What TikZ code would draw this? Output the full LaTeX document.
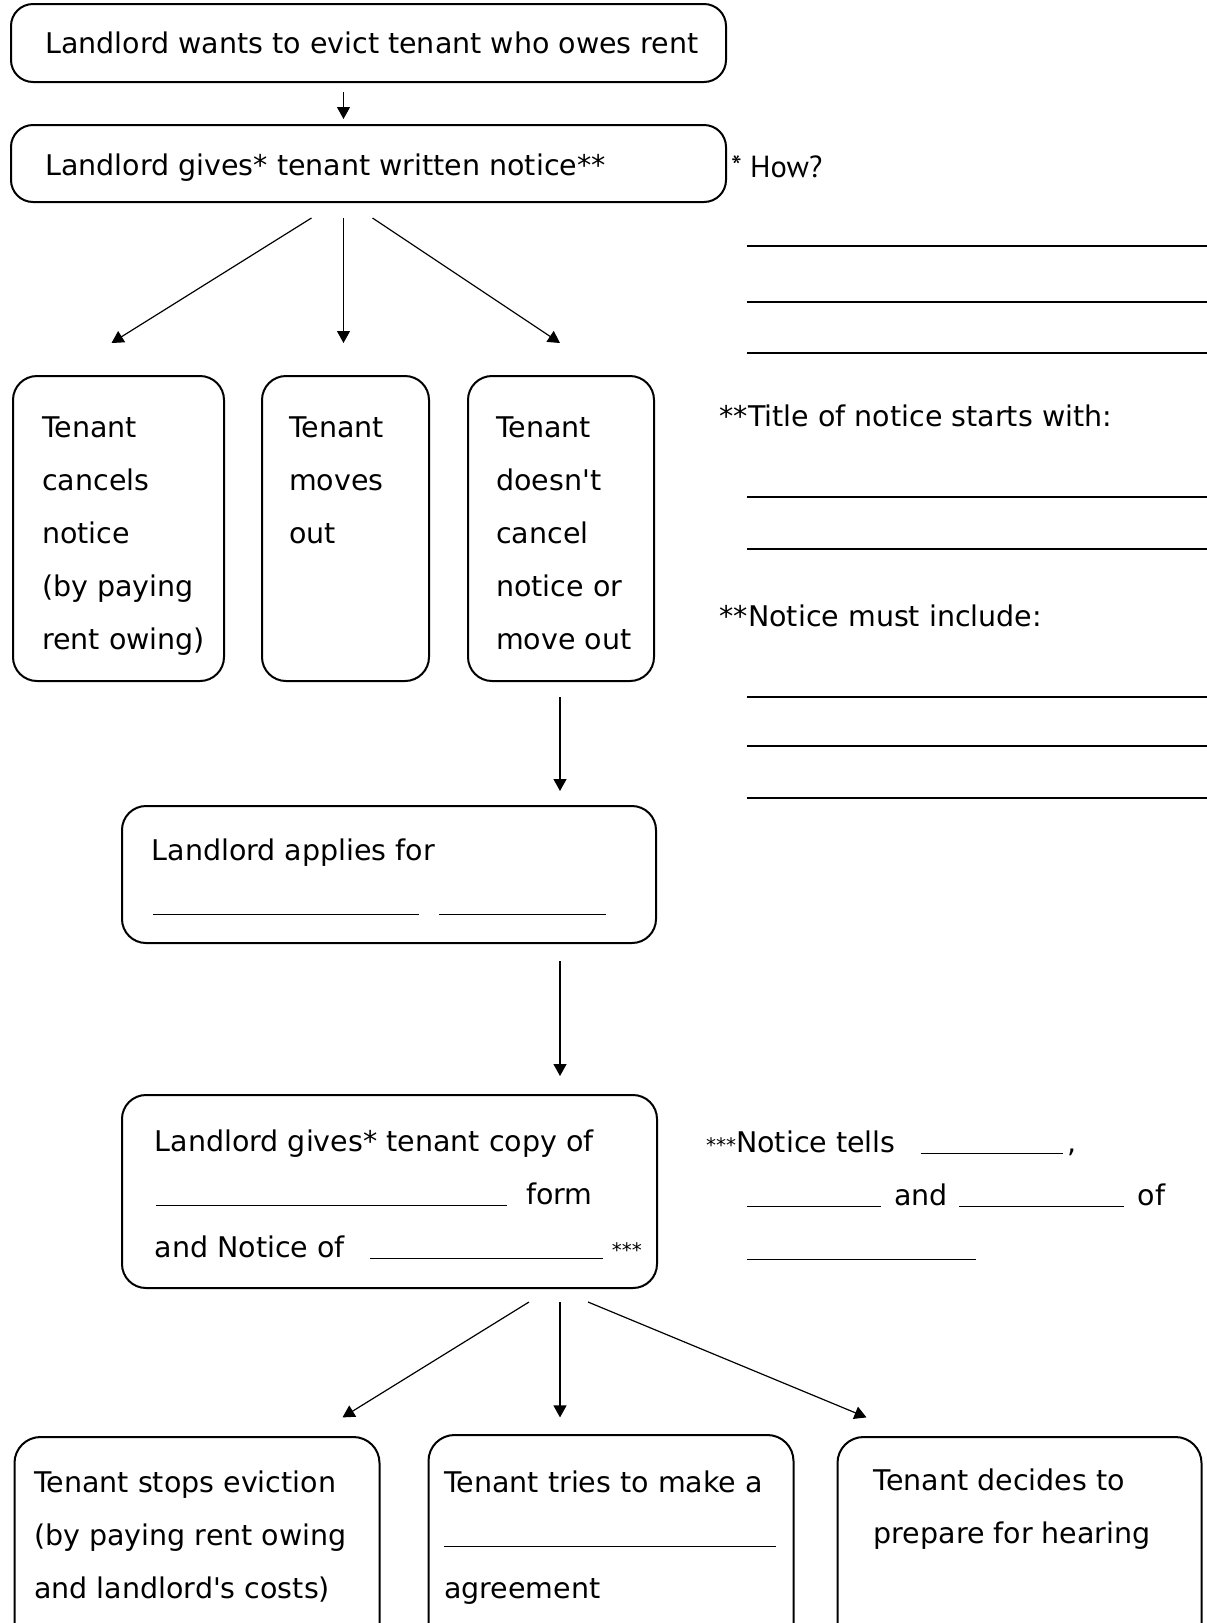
\documentclass[tikz,border=0pt]{standalone}
\usepackage{fontspec}
\setmainfont{DejaVu Sans}
\newfontfamily\howfont{PT Sans}
\usetikzlibrary{arrows.meta, positioning}

\newcommand\boxfont{\fontsize{28.5}{53}\selectfont}
\newcommand\blank[1]{\rule[-2pt]{#1}{1.3pt}}
\newcommand\smallstars[1]{{\fontsize{20}{20}\selectfont #1}}

\begin{document}
\begin{tikzpicture}[
  x=1pt, y=-1pt,
  block/.style = {draw, line width=2pt, rounded corners=24pt, inner sep=0pt, anchor=north west},
  words/.style = {inner sep=0pt, font=\boxfont, align=left, anchor=north west},
  oneline/.style = {inner sep=0pt, font=\boxfont, anchor=base west},
  arrow/.style = {line width=1.2pt, -{Triangle[width=13pt,length=12pt]}},
  fill line/.style = {line width=1.3pt}
]

  \useasboundingbox (0,0) rectangle (1207,1623);
  \clip (0,0) rectangle (1207,1623);
  \fill[white] (0,0) rectangle (1207,1623);

  % Landlord wants to evict
  \node[block, rounded corners=22pt, minimum width=715pt, minimum height=78pt] (evict) at (10,3) {};
  \node[oneline] (evict_txt) at (45,53) {Landlord wants to evict tenant who owes rent};

  % Written notice
  \node[block, rounded corners=22pt, minimum width=715pt, minimum height=77pt] (notice) at (10,124) {};
  \node[oneline] (notice_txt) at (45,175) {Landlord gives* tenant written notice**};
  \node[oneline, font=\howfont\fontsize{30.5}{34}\selectfont] (how) at (731,177) {* How?};

  \draw[arrow, shorten <=9pt, shorten >=5pt] ([xshift=-25pt]evict.south) -- ([xshift=-25pt]notice.north);

  % Three outcomes of the notice
  \node[block, minimum width=211pt, minimum height=305pt] (cancel) at (12,375) {};
  \node[block, minimum width=167pt, minimum height=305pt, right=36pt of cancel] (moves) {};
  \node[block, minimum width=186pt, minimum height=305pt, right=37pt of moves] (stay) {};

  \node[words] (cancel_txt) at (42,417) {Tenant\\cancels\\notice\\(by paying\\rent owing)};
  \node[words] (moves_txt) at (289,417) {Tenant\\moves\\out};
  \node[words] (stay_txt) at (496,417) {Tenant\\doesn\textquotesingle t\\cancel\\notice or\\move out};

  \draw[arrow] ([xshift=-57pt,yshift=-15pt]notice.south) -- ([xshift=-7pt,yshift=32pt]cancel.north);
  \draw[arrow] ([xshift=-25pt,yshift=-15pt]notice.south) -- ([xshift=-2pt,yshift=32pt]moves.north);
  \draw[arrow] ([xshift=4pt,yshift=-15pt]notice.south) -- ([xshift=-1pt,yshift=32pt]stay.north);

  % Notes on the right
  \node[oneline] (title) at (719.5,426) {**Title of notice starts with:};
  \node[oneline] (include) at (719.5,626) {**Notice must include:};

  \draw[fill line] (747,246) -- (1207,246);
  \draw[fill line] (747,302) -- (1207,302);
  \draw[fill line] (747,353) -- (1207,353);
  \draw[fill line] (747,497) -- (1207,497);
  \draw[fill line] (747,549) -- (1207,549);
  \draw[fill line] (747,697) -- (1207,697);
  \draw[fill line] (747,746) -- (1207,746);
  \draw[fill line] (747,798) -- (1207,798);

  % Landlord applies
  \node[block, minimum width=534pt, minimum height=137pt] (apply) at (121,805) {};
  \node[words] (apply_txt) at (151.5,838.3) {Landlord applies for\\\hspace*{1.5pt}\blank{266pt}\hspace*{20pt}\blank{167pt}};

  \draw[arrow, shorten >=14pt] ([xshift=-1pt,yshift=-15pt]stay.south) -- ([xshift=-1pt]stay.south |- apply.north);

  % Copy of the application
  \node[block, minimum width=535pt, minimum height=193pt] (copy) at (121,1094) {};
  \node[words] (copy_txt) at (154.5,1129.3) {Landlord gives* tenant copy of\\\hspace*{1.5pt}\blank{351pt}\hspace*{19pt}form\\and Notice of\hspace*{25pt}\blank{233pt}\hspace*{9pt}\smallstars{***}};

  \draw[arrow, shorten <=17pt, shorten >=18pt] ([xshift=-1pt]stay.south |- apply.south) -- ([xshift=-1pt]stay.south |- copy.north);

  \node[words] (tells_txt) at (706,1130.3) {\smallstars{***}Notice tells\hspace*{25pt}\blank{142pt}\hspace*{5pt},\\\hspace*{41pt}\blank{134pt}\hspace*{13pt}and\hspace*{11pt}\blank{165pt}\hspace*{14pt}of\\\hspace*{41pt}\blank{229pt}};

  % What the tenant does next
  \node[block, rounded corners=26pt, minimum width=365pt, minimum height=300pt] (stops) at (13.5,1436) {};
  \node[block, rounded corners=26pt, minimum width=365pt, minimum height=300pt] (agree) at (427.5,1434) {};
  \node[block, rounded corners=26pt, minimum width=364pt, minimum height=300pt] (hearing) at (836.5,1436) {};

  \node[words] (stops_txt) at (34,1470.3) {Tenant stops eviction\\(by paying rent owing\\and landlord\textquotesingle s costs)};
  \node[words] (agree_txt) at (444,1470.3) {Tenant tries to make a\\\blank{332pt}\\agreement};
  \node[words] (hearing_txt) at (873.5,1468.3) {Tenant decides to\\prepare for hearing};

  \draw[arrow] ([xshift=-129pt,yshift=-13pt]copy.south east) -- ([xshift=329pt,yshift=18.6pt]stops.north west);
  \draw[arrow] ([xshift=-98pt,yshift=-13pt]copy.south east) -- ([xshift=132.5pt,yshift=16.6pt]agree.north west);
  \draw[arrow] ([xshift=-70pt,yshift=-13pt]copy.south east) -- ([xshift=30pt,yshift=18.6pt]hearing.north west);

\end{tikzpicture}
\end{document}
